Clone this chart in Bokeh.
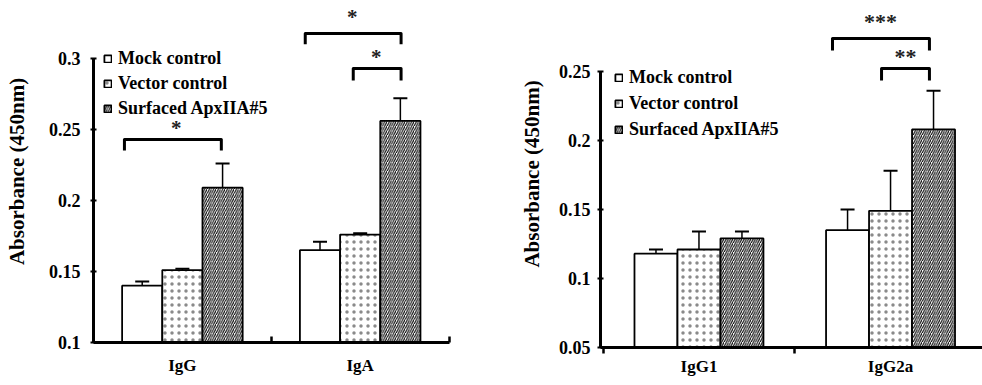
from bokeh.plotting import figure
from bokeh.layouts import row
from bokeh.models import (ColumnDataSource, FixedTicker, Legend, LegendItem,
                          Whisker, TeeHead, Range1d)
from bokeh.core.properties import value
from bokeh.embed import file_html
from bokeh.resources import INLINE

FONT = "Liberation Serif"

series_names = ["Mock control", "Vector control", "Surfaced ApxIIA#5"]

# ---- left panel data ----
left_groups = ["IgG", "IgA"]
left_mock = [0.140, 0.165]
left_mock_err = [0.003, 0.006]
left_vector = [0.151, 0.176]
left_vector_err = [0.001, 0.001]
left_surfaced = [0.209, 0.256]
left_surfaced_err = [0.017, 0.016]
left_yticks = [0.1, 0.15, 0.2, 0.25, 0.3]
left_ytick_labels = ["0.1", "0.15", "0.2", "0.25", "0.3"]

# significance brackets (left)
left_br_x0 = [0.174, 1.191, 1.461]
left_br_x1 = [0.719, 1.730, 1.730]
left_br_ylow = [0.2352, 0.3100, 0.2845]
left_br_ytop = [0.2430, 0.3176, 0.2930]
left_star_text = ["*", "*", "*"]
left_star_x = [0.466, 1.455, 1.590]
left_star_y = [0.2535, 0.3317, 0.3040]

# ---- right panel data ----
right_groups = ["IgG1", "IgG2a"]
right_mock = [0.118, 0.135]
right_mock_err = [0.003, 0.015]
right_vector = [0.121, 0.149]
right_vector_err = [0.013, 0.029]
right_surfaced = [0.129, 0.208]
right_surfaced_err = [0.005, 0.028]
right_yticks = [0.05, 0.1, 0.15, 0.2, 0.25]
right_ytick_labels = ["0.05", "0.1", "0.15", "0.2", "0.25"]

right_br_x0 = [1.197, 1.453]
right_br_x1 = [1.703, 1.703]
right_br_ylow = [0.2652, 0.2435]
right_br_ytop = [0.2739, 0.2522]
right_star_text = ["***", "**"]
right_star_x = [1.447, 1.578]
right_star_y = [0.2890, 0.2638]


def make_panel(groups, series, errs, yticks, ylabels, xr, yr, ybounds, xbounds,
               width, height, borders, bar_w, legend_loc, legend_lh, legend_glw,
               minor_in, minor_out, x_standoff, br, stars, star_size, ylab_standoff,
               y_standoff):
    p = figure(width=width, height=height, output_backend="svg", toolbar_location=None,
               x_range=Range1d(*xr), y_range=Range1d(*yr),
               min_border_left=borders[0], min_border_right=borders[1],
               min_border_top=borders[2], min_border_bottom=borders[3])
    p.outline_line_color = None
    p.grid.visible = False
    p.background_fill_color = "white"

    styles = [
        dict(fill_color="white"),
        dict(fill_color="white", hatch_pattern="dot", hatch_scale=7, hatch_weight=0.4,
             hatch_color="#8a8a8a"),
        dict(fill_color="white", hatch_pattern="right_diagonal_line", hatch_scale=4.5,
             hatch_weight=1.1, hatch_color="black"),
    ]
    offsets = [-bar_w, 0.0, bar_w]
    items = []
    for k, (vals, ev) in enumerate(zip(series, errs)):
        xs = [i + 0.5 + offsets[k] for i in range(len(groups))]
        src = ColumnDataSource(dict(x=xs, top=vals, up=[v + e for v, e in zip(vals, ev)]))
        r = p.vbar(x="x", top="top", bottom=yr[0], width=bar_w, source=src,
                   line_color="black", line_width=1.8, **styles[k])
        w = Whisker(source=src, base="x", lower="top", upper="up", dimension="height",
                    line_color="black", line_width=1.5,
                    upper_head=TeeHead(size=14, line_width=2, line_color="black"),
                    lower_head=None)
        p.add_layout(w)
        items.append(LegendItem(label=series_names[k], renderers=[r]))

    legend = Legend(items=items, location=legend_loc, glyph_width=legend_glw,
                    glyph_height=legend_glw, label_standoff=6, label_height=legend_lh,
                    spacing=3, padding=0, margin=0, border_line_color=None,
                    background_fill_alpha=0, label_text_font=FONT,
                    label_text_font_style="bold", label_text_font_size="18px",
                    label_text_color="black")
    p.add_layout(legend)

    # brackets
    bx0, bx1, byl, byt = br
    p.multi_line(xs=[[a, a, b, b] for a, b in zip(bx0, bx1)],
                 ys=[[l, t, t, l] for l, t in zip(byl, byt)],
                 line_color="black", line_width=3, line_join="round")
    st_text, st_x, st_y = stars
    p.text(x=st_x, y=st_y, text=st_text, text_align="center", text_baseline="middle",
           y_offset=4, text_font=value(FONT), text_font_style="bold",
           text_font_size=star_size, text_color="#222222")

    # axes
    p.yaxis.ticker = FixedTicker(ticks=yticks)
    p.yaxis.major_label_overrides = {t: l for t, l in zip(yticks, ylabels)}
    p.yaxis.bounds = ybounds
    p.yaxis.axis_line_width = 3
    p.yaxis.major_tick_line_width = 2
    p.yaxis.major_tick_in = 3
    p.yaxis.major_tick_out = 3
    p.yaxis.minor_tick_line_color = None
    p.yaxis.major_label_standoff = y_standoff
    p.yaxis.major_label_text_font = FONT
    p.yaxis.major_label_text_font_style = "bold"
    p.yaxis.major_label_text_font_size = "18px"
    p.yaxis.major_label_text_color = "black"
    p.yaxis.axis_label = "Absorbance (450nm)"
    p.yaxis.axis_label_text_font = FONT
    p.yaxis.axis_label_text_font_style = "bold"
    p.yaxis.axis_label_text_font_size = "21px"
    p.yaxis.axis_label_text_color = "black"
    p.yaxis.axis_label_standoff = ylab_standoff

    p.xaxis.ticker = FixedTicker(ticks=[0.5, 1.5], minor_ticks=[0, 1, 2])
    p.xaxis.major_label_overrides = {0.5: groups[0], 1.5: groups[1]}
    p.xaxis.bounds = xbounds
    p.xaxis.axis_line_width = 3
    p.xaxis.major_tick_line_color = None
    p.xaxis.minor_tick_line_width = 2.5
    p.xaxis.minor_tick_in = minor_in
    p.xaxis.minor_tick_out = minor_out
    p.xaxis.major_label_standoff = x_standoff
    p.xaxis.major_label_text_font = FONT
    p.xaxis.major_label_text_font_style = "bold"
    p.xaxis.major_label_text_font_size = "17px"
    p.xaxis.major_label_text_color = "black"
    return p


left = make_panel(left_groups,
                  [left_mock, left_vector, left_surfaced],
                  [left_mock_err, left_vector_err, left_surfaced_err],
                  left_yticks, left_ytick_labels,
                  xr=(0.0, 2.008), yr=(0.1, 0.3408), ybounds=(0.1, 0.3), xbounds=(0, 2),
                  width=490, height=380, borders=(93, 40, 0, 38), bar_w=0.226,
                  legend_loc=(10, 223), legend_lh=22, legend_glw=9,
                  minor_in=6, minor_out=0, x_standoff=7,
                  br=(left_br_x0, left_br_x1, left_br_ylow, left_br_ytop),
                  stars=(left_star_text, left_star_x, left_star_y), star_size="21px",
                  ylab_standoff=17, y_standoff=10)

right = make_panel(right_groups,
                   [right_mock, right_vector, right_surfaced],
                   [right_mock_err, right_vector_err, right_surfaced_err],
                   right_yticks, right_ytick_labels,
                   xr=(-0.014, 1.980), yr=(0.05, 0.3014), ybounds=(0.05, 0.25),
                   xbounds=(-0.014, 1.980),
                   width=492, height=385, borders=(110, 0, 0, 38), bar_w=0.2244,
                   legend_loc=(14, 206), legend_lh=23, legend_glw=9,
                   minor_in=0, minor_out=6, x_standoff=3,
                   br=(right_br_x0, right_br_x1, right_br_ylow, right_br_ytop),
                   stars=(right_star_text, right_star_x, right_star_y), star_size="22px",
                   ylab_standoff=12, y_standoff=7)

layout = row(left, right)
open("out.html", "w").write(file_html(layout, INLINE))
